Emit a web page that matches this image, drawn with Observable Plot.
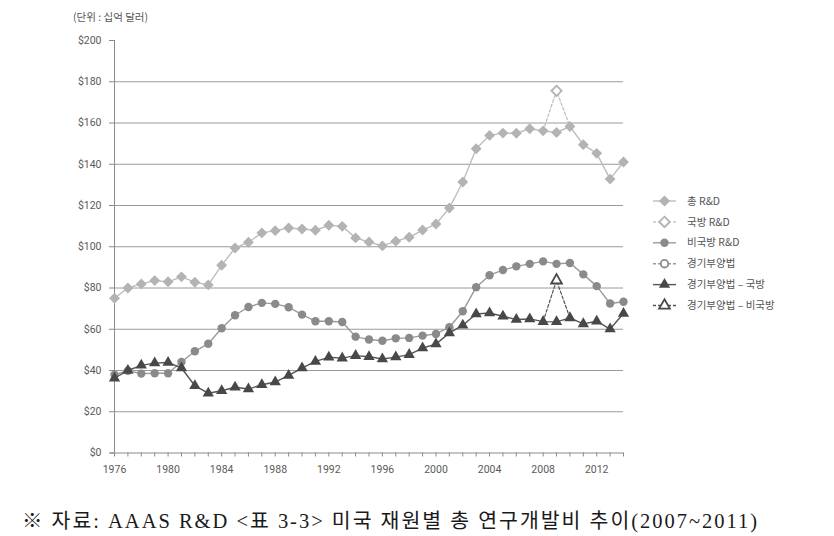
<!DOCTYPE html>
<html><head><meta charset="utf-8">
<script src="https://cdn.jsdelivr.net/npm/d3@7"></script>
<script src="https://cdn.jsdelivr.net/npm/@observablehq/plot@0.6"></script>
<style>
body{margin:0;background:#fff;}
#chart{position:relative;width:834px;height:536px;}
</style></head><body><div id="chart"></div>
<script>
// ---- data (billions of dollars) ----
const years = [1976,1977,1978,1979,1980,1981,1982,1983,1984,1985,1986,1987,1988,1989,1990,1991,1992,1993,1994,1995,1996,1997,1998,1999,2000,2001,2002,2003,2004,2005,2006,2007,2008,2009,2010,2011,2012,2013,2014];
const totalRD = [75,80,82,83.6,83,85.4,82.8,81.5,91,99.4,102.2,106.7,107.8,109.1,108.6,108,110.4,109.9,104.3,102.3,100.4,102.7,104.6,108.1,111,118.8,131.4,147.5,154,155.1,155,157.2,156.2,155.4,158.3,149.5,145.3,132.8,141.1];
const nonDefenseRD = [38,39.9,38.5,38.7,38.7,44.1,49.3,53,60.5,66.8,70.8,72.8,72.3,70.7,67.1,63.9,63.9,63.5,56.4,55,54.4,55.6,55.8,56.9,57.7,61,68.7,80.4,86.2,88.7,90.5,91.7,92.9,91.7,92.1,86.6,80.9,72.5,73.3];
const stimulusDefense = [36.3,40,42.5,43.6,43.9,41.2,32.6,29,30.2,31.9,31,33.1,34.4,37.6,41.2,44.4,46.4,46,47.2,46.7,45.6,46.5,47.7,50.9,52.8,58.2,61.9,67.4,67.9,66.3,64.7,65,63.7,63.6,65.5,62.6,63.9,60.1,67.6];
const stimulusYear = 2009;
const defenseRDStimulus = 175.6;      // hollow diamond
const stimulusNonDefense = 83.7;      // hollow triangle
const yTicks = [0,20,40,60,80,100,120,140,160,180,200];
const gridTicks = [20,40,60,80,100,120,140,160,180];
const xLabelYears = [1976,1980,1984,1988,1992,1996,2000,2004,2008,2012];
const legendLabels = ["총 R&D","국방 R&D","비국방 R&D","경기부양법","경기부양법 – 국방","경기부양법 – 비국방"];
const unitLabel = "(단위 : 십억 달러)";
const caption = "※ 자료: AAAS R&D <표 3-3> 미국 재원별 총 연구개발비 추이(2007~2011)";

// ---- tables ----
const tot = years.map((y,i)=>({year:y, v:totalRD[i]}));
const nd = years.map((y,i)=>({year:y, v:nonDefenseRD[i]}));
const sd = years.map((y,i)=>({year:y, v:stimulusDefense[i]}));
const iS = years.indexOf(stimulusYear);
const dashTot = [{year:years[iS-1], v:totalRD[iS-1]},{year:stimulusYear, v:defenseRDStimulus},{year:years[iS+1], v:totalRD[iS+1]}];
const dashTri = [{year:years[iS-1], v:stimulusDefense[iS-1]},{year:stimulusYear, v:stimulusNonDefense},{year:years[iS+1], v:stimulusDefense[iS+1]}];

const C_DIA = "#b3b3b3", C_DIA_L = "#bdbdbd";
const C_CIR = "#8a8a8a", C_CIR_L = "#9a9a9a";
const C_TRI = "#484848", C_TRI_L = "#555555";

const plot = Plot.plot({
  width: 834, height: 536,
  marginLeft: 114, marginRight: 211, marginTop: 40, marginBottom: 83.5,
  style: {fontFamily: "Roboto, 'Noto Sans CJK KR', sans-serif", fontSize: "10.5px", color: "#555", background: "#fff"},
  x: {domain: [1976, 2014], label: null},
  y: {domain: [0, 200], label: null},
  marks: [
    Plot.ruleY(gridTicks, {stroke: "#9a9a9a", strokeWidth: 1}),
    Plot.ruleX([1976], {y1: 0, y2: 200, stroke: "#8a8a8a"}),
    Plot.ruleY([0], {stroke: "#8a8a8a", insetLeft: -4}),
    Plot.axisY(yTicks, {tickSize: 5, tickPadding: 8, tickFormat: d => "$" + d, stroke: "#8a8a8a", fill: "#5a5a5a", label: null}),
    Plot.axisX(years, {tickSize: 4, tickFormat: () => "", stroke: "#8a8a8a", label: null}),
    Plot.axisX(xLabelYears, {tickSize: 0, tickPadding: 13, tickFormat: "d", fill: "#5a5a5a", label: null}),
    // dashed stimulus segments
    Plot.line(dashTot, {x: "year", y: "v", stroke: C_DIA_L, strokeWidth: 1.2, strokeDasharray: "3,2"}),
    Plot.line(dashTri, {x: "year", y: "v", stroke: C_TRI_L, strokeWidth: 1.2, strokeDasharray: "3,2"}),
    // total R&D
    Plot.line(tot, {x: "year", y: "v", stroke: C_DIA_L, strokeWidth: 1.4}),
    Plot.dot(tot, {x: "year", y: "v", symbol: "diamond2", r: 4.9, fill: C_DIA, stroke: "none"}),
    // non-defense
    Plot.line(nd, {x: "year", y: "v", stroke: C_CIR_L, strokeWidth: 1.4}),
    Plot.dot(nd, {x: "year", y: "v", symbol: "circle", r: 4.2, fill: C_CIR, stroke: "none"}),
    // triangles
    Plot.line(sd, {x: "year", y: "v", stroke: C_TRI_L, strokeWidth: 1.4}),
    Plot.dot(sd, {x: "year", y: "v", symbol: "triangle", r: 4.2, fill: C_TRI, stroke: "none"}),
    // hollow stimulus markers
    Plot.dot([dashTot[1]], {x: "year", y: "v", symbol: "diamond2", r: 4.6, fill: "#fff", stroke: C_DIA, strokeWidth: 1.8}),
    Plot.dot([dashTri[1]], {x: "year", y: "v", symbol: "triangle", r: 4.0, fill: "#fff", stroke: C_TRI, strokeWidth: 1.8})
  ]
});

const svg = d3.select(plot);
// unit label
svg.append("text").attr("x", 73).attr("y", 21).attr("fill", "#555").attr("text-anchor", "start")
  .style("font-family", "'Noto Sans CJK KR', sans-serif").style("font-size", "10.5px").text(unitLabel);

// legend
const legendSpec = [
  {sym: d3.symbolDiamond2, size: 80, fill: C_DIA, stroke: "none", line: C_DIA_L, dash: null},
  {sym: d3.symbolDiamond2, size: 70, fill: "#fff", stroke: C_DIA, line: C_DIA_L, dash: "3,2"},
  {sym: d3.symbolCircle, size: 55, fill: C_CIR, stroke: "none", line: C_CIR_L, dash: null},
  {sym: d3.symbolCircle, size: 45, fill: "#fff", stroke: C_CIR, line: C_CIR_L, dash: "3,2"},
  {sym: d3.symbolTriangle, size: 55, fill: C_TRI, stroke: "none", line: C_TRI_L, dash: null},
  {sym: d3.symbolTriangle, size: 50, fill: "#fff", stroke: C_TRI, line: C_TRI_L, dash: "3,2"}
];
const lg = svg.append("g").attr("text-anchor", "start");
legendLabels.forEach((lab, i) => {
  const cy = 201 + i * 20.9;
  const g = lg.append("g");
  g.append("line").attr("x1", 653).attr("x2", 676).attr("y1", cy).attr("y2", cy)
    .attr("stroke", legendSpec[i].line).attr("stroke-width", 1.4)
    .attr("stroke-dasharray", legendSpec[i].dash);
  g.append("path").attr("transform", `translate(664.5,${cy})`)
    .attr("d", d3.symbol(legendSpec[i].sym, legendSpec[i].size)())
    .attr("fill", legendSpec[i].fill).attr("stroke", legendSpec[i].stroke).attr("stroke-width", 1.8);
  g.append("text").attr("x", 687).attr("y", cy).attr("dy", "0.35em").attr("fill", "#555").attr("text-anchor", "start")
    .style("font-family", "'Noto Sans CJK KR', sans-serif").style("font-size", "10.5px").text(lab);
});

// caption
svg.append("text").attr("x", 22).attr("y", 528).attr("fill", "#1a1a1a").attr("text-anchor", "start")
  .attr("textLength", 735).attr("lengthAdjust", "spacing")
  .style("font-family", "'Liberation Serif', 'Noto Sans CJK KR', serif").style("font-weight", "400")
  .style("font-size", "20.5px").text(caption);

document.getElementById("chart").appendChild(plot);
</script></body></html>
